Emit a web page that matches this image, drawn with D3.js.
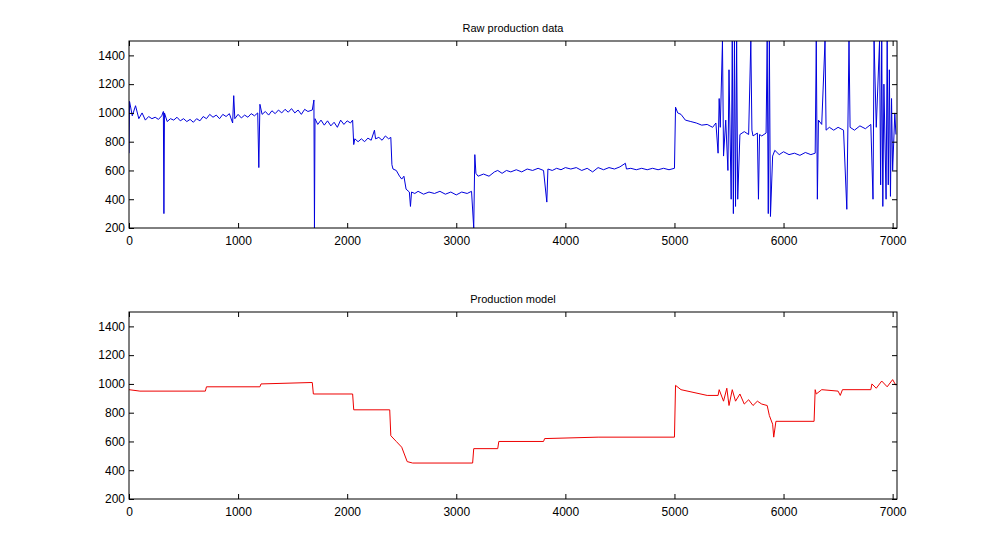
<!DOCTYPE html>
<html><head><meta charset="utf-8"><script src="https://cdn.jsdelivr.net/npm/d3@7"></script>
<style>body{margin:0;background:#fff}svg{font-family:"Liberation Sans",Arial,sans-serif}</style></head>
<body><svg id="c" width="992" height="546"></svg>
<script>
const xTicks=[0,1000,2000,3000,4000,5000,6000,7000];
const yTicks=[200,400,600,800,1000,1200,1400];
const titles=["Raw production data","Production model"];
const rawData=[[0,720],[5,1080],[30,980],[60,1050],[90,960],[120,1000],[150,950],[180,975],[210,960],[240,970],[270,955],[300,980],[315,1010],[320,300],[325,1000],[350,940],[380,960],[410,950],[440,970],[470,945],[500,960],[530,940],[560,955],[590,935],[620,960],[650,945],[680,975],[710,960],[740,990],[770,970],[800,985],[830,960],[860,990],[890,975],[920,995],[950,930],[960,1120],[970,960],[1000,990],[1030,965],[1060,985],[1090,970],[1120,995],[1150,980],[1180,1000],[1190,620],[1200,1060],[1220,990],[1250,1010],[1280,985],[1310,1015],[1340,995],[1370,1020],[1400,1000],[1430,1025],[1460,1005],[1490,1030],[1520,1000],[1550,1020],[1580,990],[1610,1025],[1640,1010],[1680,1020],[1695,1090],[1700,200],[1705,960],[1730,920],[1760,950],[1790,915],[1820,945],[1850,910],[1880,935],[1910,900],[1940,950],[1970,920],[2000,945],[2030,930],[2050,950],[2060,780],[2070,820],[2100,800],[2130,820],[2160,800],[2190,825],[2220,810],[2250,880],[2260,820],[2290,830],[2320,810],[2350,840],[2380,820],[2400,830],[2410,640],[2420,610],[2450,600],[2480,560],[2500,540],[2520,560],[2540,470],[2570,450],[2580,350],[2590,450],[2620,440],[2650,455],[2700,435],[2750,450],[2800,440],[2850,455],[2900,435],[2950,450],[3000,430],[3050,450],[3100,440],[3140,455],[3160,200],[3170,710],[3180,580],[3200,560],[3250,575],[3300,560],[3350,590],[3380,600],[3420,580],[3460,600],[3500,590],[3550,605],[3600,590],[3650,610],[3700,600],[3750,615],[3800,600],[3830,380],[3840,610],[3880,600],[3920,615],[3960,605],[4000,620],[4050,610],[4100,620],[4150,600],[4200,615],[4250,590],[4300,620],[4350,605],[4400,620],[4450,610],[4500,625],[4550,650],[4560,610],[4600,615],[4650,605],[4700,615],[4750,605],[4800,615],[4850,605],[4900,615],[4950,605],[5000,615],[5010,1040],[5030,1000],[5060,990],[5100,950],[5150,940],[5200,930],[5250,915],[5300,920],[5350,900],[5380,930],[5400,720],[5410,1100],[5420,900],[5440,1500],[5450,700],[5470,950],[5490,600],[5500,1300],[5520,400],[5530,1500],[5540,300],[5550,1500],[5560,350],[5570,1500],[5580,400],[5600,850],[5640,870],[5680,850],[5700,1500],[5710,880],[5720,840],[5760,860],[5770,400],[5780,850],[5800,840],[5840,860],[5850,1500],[5860,300],[5870,1500],[5880,280],[5900,700],[5920,740],[5960,710],[6000,730],[6050,710],[6100,720],[6150,705],[6200,725],[6250,710],[6290,720],[6300,1500],[6310,400],[6320,950],[6350,920],[6380,1500],[6390,880],[6420,900],[6460,880],[6500,900],[6550,880],[6580,330],[6600,1500],[6610,900],[6650,880],[6700,910],[6750,890],[6800,920],[6820,400],[6830,1500],[6850,900],[6880,1500],[6890,500],[6900,1500],[6910,350],[6920,1200],[6940,400],[6950,1500],[6960,500],[6970,1300],[6980,420],[6990,1100],[7000,600],[7020,1000],[7030,850]];
const modelData=[[0,960],[100,950],[700,950],[710,980],[1200,980],[1210,1000],[1680,1010],[1690,930],[2050,930],[2060,820],[2390,820],[2400,640],[2450,600],[2500,560],[2550,460],[2600,450],[3150,450],[3160,550],[3380,550],[3390,600],[3800,600],[3810,620],[4300,630],[5000,630],[5010,990],[5060,960],[5300,920],[5400,920],[5410,960],[5450,880],[5480,970],[5500,850],[5530,960],[5560,880],[5600,930],[5640,860],[5680,890],[5720,850],[5760,880],[5800,860],[5850,850],[5870,780],[5900,720],[5910,630],[5930,740],[6280,740],[6290,960],[6300,930],[6350,960],[6500,950],[6520,920],[6540,960],[6800,960],[6810,1000],[6850,970],[6900,1020],[6950,980],[7000,1030],[7030,990]];
const svg=d3.select("#c");
const x=d3.scaleLinear().domain([0,7040]).range([129,897]);
function panel(top,data,color,title){
  const y=d3.scaleLinear().domain([200,1500]).range([top+187,top]);
  const g=svg.append("g");
  g.append("defs").append("clipPath").attr("id","cp"+top).append("rect").attr("x",129).attr("y",top).attr("width",768).attr("height",187);
  g.append("path").datum(data).attr("clip-path",`url(#cp${top})`).attr("fill","none").attr("stroke",color).attr("stroke-width",1)
    .attr("d",d3.line().x(d=>x(d[0])).y(d=>y(d[1])));
  const ax=(a,tr)=>g.append("g").attr("transform",tr).call(a).call(s=>s.select(".domain").remove()).call(s=>s.selectAll("text").attr("font-size",12).attr("fill","#000"));
  ax(d3.axisBottom(x).tickValues(xTicks).tickFormat(d3.format("d")).tickSizeInner(-5).tickPadding(8),`translate(0,${top+187})`);
  ax(d3.axisTop(x).tickValues(xTicks).tickFormat("").tickSizeInner(-5),`translate(0,${top})`);
  ax(d3.axisLeft(y).tickValues(yTicks).tickFormat(d3.format("d")).tickSizeInner(-5).tickPadding(4),`translate(129,0)`);
  ax(d3.axisRight(y).tickValues(yTicks).tickFormat("").tickSizeInner(-5),`translate(897,0)`);
  g.append("rect").attr("x",129).attr("y",top).attr("width",768).attr("height",187).attr("fill","none").attr("stroke","#000");
  g.append("text").attr("x",513).attr("y",top-9).attr("text-anchor","middle").attr("font-size",11).text(title);
}
panel(41,rawData,"#0000dd",titles[0]);
panel(312,modelData,"#ee0000",titles[1]);
</script></body></html>
